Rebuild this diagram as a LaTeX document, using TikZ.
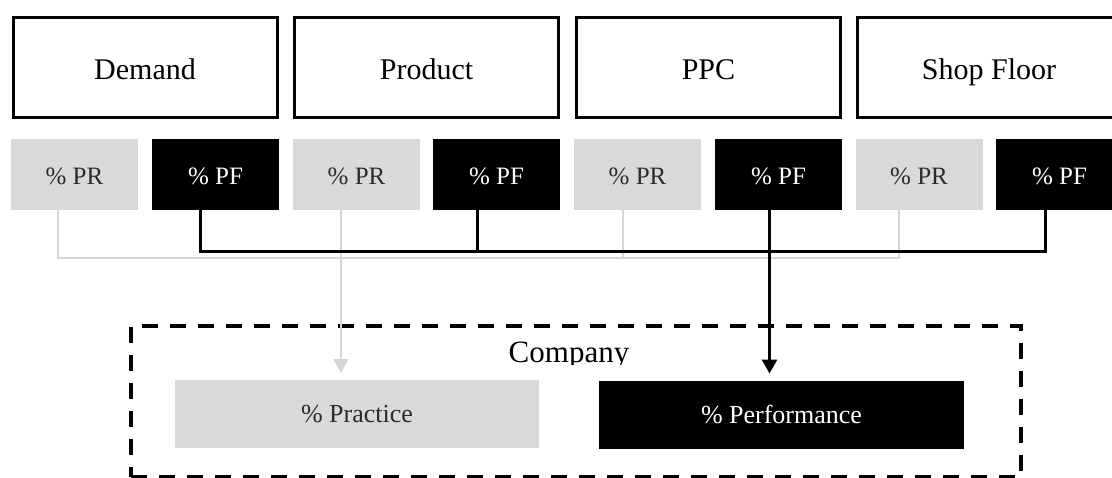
\documentclass[tikz,border=0pt]{standalone}
\usepackage{fontspec}
\setmainfont{Liberation Serif}
\usetikzlibrary{arrows.meta}
\definecolor{prfill}{HTML}{D9D9D9}
\definecolor{prline}{HTML}{D6D6D6}
\definecolor{prtext}{HTML}{2B2B2B}
\begin{document}
\begin{tikzpicture}[x=1pt,y=-1pt,
  area/.style={draw=black, line width=3pt, fill=white, inner sep=0pt,
    minimum width=264pt, minimum height=100pt,
    text height=26pt, text depth=2pt,
    font=\fontsize{30}{36}\selectfont},
  prbox/.style={fill=prfill, inner sep=0pt, outer sep=0pt,
    minimum width=127pt, minimum height=71pt, text=prtext,
    text height=20pt, text depth=1pt,
    font=\fontsize{25}{30}\selectfont},
  pfbox/.style={prbox, fill=black, text=white},
  prlink/.style={draw=prline, line width=2.5pt},
  pflink/.style={draw=black, line width=3pt},
  tip/.style={-{Triangle[length=14pt,width=15pt]}, shorten >=7pt},
  sumbox/.style={inner sep=0pt, outer sep=0pt, minimum height=68pt,
    font=\fontsize{26}{31}\selectfont},
  frame/.style={draw=black, line width=3.5pt, dash pattern=on 16pt off 12pt,
    inner sep=0pt, minimum width=890pt, minimum height=151pt}
]
\useasboundingbox (0,0) rectangle (1112,477);
\clip (0,0) rectangle (1112,477);

% functional areas
\node[area] (dem)  at (145,67)   {Demand};
\node[area] (prod) at (426.5,67) {Product};
\node[area] (ppc)  at (708.5,67) {PPC};
\node[area] (shop) at (989,67)   {Shop Floor};

% practice / performance shares per area
\node[prbox] (dem-pr)  at (74.5,174.5)  {\% PR};
\node[pfbox] (dem-pf)  at (215.5,174.5) {\% PF};
\node[prbox] (prod-pr) at (356.5,174.5) {\% PR};
\node[pfbox] (prod-pf) at (496.5,174.5) {\% PF};
\node[prbox] (ppc-pr)  at (637.5,174.5) {\% PR};
\node[pfbox] (ppc-pf)  at (778.5,174.5) {\% PF};
\node[prbox] (shop-pr) at (919,174.5)   {\% PR};
\node[pfbox] (shop-pf) at (1059.5,174.5){\% PF};

% company level
\node[frame] (company) at (576,401.5) {};
\begin{scope}
  \clip (400,330) rectangle (760,364.5);
  \node[anchor=base, font=\fontsize{31}{37}\selectfont] (company-label) at (569,362) {Company};
\end{scope}
\node[sumbox, fill=prfill, text=prtext, minimum width=364pt] (practice) at (357,414) {\% Practice};
\node[sumbox, fill=black, text=white, minimum width=365pt] (performance) at (781.5,414.5) {\% Performance};

% connector drop points
\coordinate (graybus)  at (0,258);
\coordinate (blackbus) at (0,251);
\coordinate (ga) at ([xshift=-16.5pt]dem-pr.south);
\coordinate (gb) at ([xshift=-15.5pt]prod-pr.south);
\coordinate (gc) at ([xshift=-14.5pt]ppc-pr.south);
\coordinate (gd) at ([xshift=-20pt]shop-pr.south);
\coordinate (ka) at ([xshift=-15.5pt]dem-pf.south);
\coordinate (kb) at ([xshift=-19.5pt]prod-pf.south);
\coordinate (kc) at ([xshift=-9pt]ppc-pf.south);
\coordinate (kd) at ([xshift=-14.5pt]shop-pf.south);

% practice links
\draw[prlink] (ga) |- (gd |- graybus) -- (gd);
\draw[prlink] (gc) -- (gc |- graybus);
\draw[prlink, tip, fill=prline] (gb) -- (gb |- practice.north);

% performance links
\draw[pflink] (ka) |- (kd |- blackbus) -- (kd);
\draw[pflink] (kb) -- (kb |- blackbus);
\draw[pflink, tip] (kc) -- (kc |- performance.north);
\end{tikzpicture}
\end{document}
